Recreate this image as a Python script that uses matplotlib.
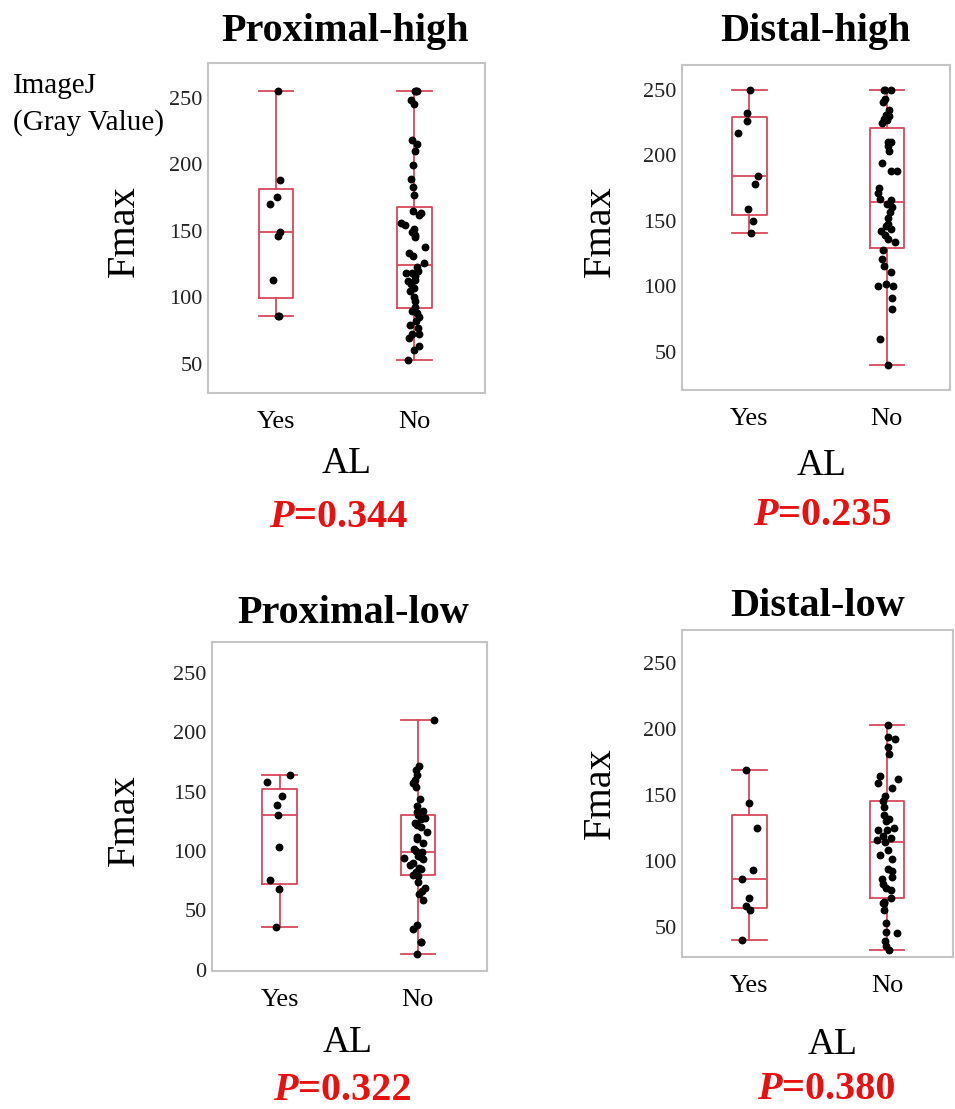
import numpy as np
import matplotlib
matplotlib.use("Agg")
from matplotlib import pyplot as plt

plt.rcParams['font.family'] = ['Liberation Serif', 'DejaVu Serif']

groups = ["Yes", "No"]

prox_high_yes = [255, 188, 175, 170, 149, 146, 113, 86, 86]
prox_high_no = [255, 255, 255, 248, 245, 218, 215, 210, 199, 189, 183, 177, 165, 163, 162, 156,
                154, 151, 149, 147, 145, 138, 133, 131, 126, 123, 120, 118, 118, 116, 113, 112,
                110, 107, 105, 100, 97, 93, 90, 88, 85, 82, 79, 77, 72, 72, 69, 63, 60, 53]

dist_high_yes = [250, 232, 226, 217, 184, 178, 159, 150, 141]
dist_high_no = [250, 250, 250, 243, 241, 235, 231, 230, 228, 227, 225, 210, 210, 207, 203, 194,
                188, 188, 175, 171, 167, 166, 163, 161, 157, 152, 148, 146, 144, 142, 139, 136,
                134, 128, 121, 116, 111, 102, 100, 100, 91, 83, 60, 40]

prox_low_yes = [164, 158, 146, 139, 130, 103, 76, 68, 36]
prox_low_no = [210, 172, 168, 164, 160, 157, 154, 144, 138, 134, 133, 130, 128, 127, 124, 122,
               120, 116, 112, 110, 107, 102, 100, 99, 98, 96, 95, 94, 93, 90, 88, 86, 85, 82,
               80, 79, 74, 69, 66, 64, 59, 38, 34, 23, 23, 13]

dist_low_yes = [169, 144, 125, 93, 86, 72, 66, 63, 40]
dist_low_no = [203, 194, 192, 186, 181, 164, 162, 159, 155, 149, 145, 141, 135, 132, 130, 125,
               123, 123, 119, 117, 116, 114, 108, 104, 101, 94, 92, 88, 86, 82, 79, 78, 72, 69,
               68, 68, 63, 53, 46, 45, 39, 35, 32]

titles = ["Proximal-high", "Distal-high", "Proximal-low", "Distal-low"]
p_values = ["=0.344", "=0.235", "=0.322", "=0.380"]

W, H = 955, 1109
fig = plt.figure(figsize=(W / 100, H / 100), dpi=100)

box_red = "#d9475c"
p_red = "#e81010"


def px_axes(l, t, r, b):
    return fig.add_axes([l / W, 1 - b / H, (r - l) / W, (b - t) / H])


def stats(vals):
    v = np.array(vals, dtype=float)
    q1, med, q3 = np.percentile(v, [25, 50, 75], method="weibull")
    return {"med": med, "q1": q1, "q3": q3, "whislo": v.min(), "whishi": v.max(), "fliers": []}


def panel(rect, yes, no, ylim, yticks, xlim, seed):
    ax = px_axes(*rect)
    lp = dict(color=box_red, linewidth=1.3)
    ax.bxp([stats(yes), stats(no)], positions=[0, 1], widths=0.25, capwidths=0.25,
           showfliers=False, boxprops=lp, medianprops=lp, whiskerprops=lp, capprops=lp)
    rng = np.random.default_rng(seed)
    for pos, vals in zip([0, 1], [yes, no]):
        jit = np.clip(rng.normal(0, 0.035, len(vals)), -0.12, 0.12)
        ax.scatter(pos + jit, vals, s=32, color="black", zorder=3, linewidths=0)
    ax.set_xlim(*xlim)
    ax.set_ylim(*ylim)
    ax.set_yticks(yticks)
    ax.set_xticks([0, 1], groups)
    ax.tick_params(axis="y", length=0, labelsize=16, pad=4, labelcolor="#222222")
    ax.tick_params(axis="x", length=0, labelsize=19, pad=13)
    for s in ax.spines.values():
        s.set_color("#c4c4c4")
        s.set_linewidth(1.5)
    return ax


panel((208, 63, 485, 393), prox_high_yes, prox_high_no, (28, 276), [50, 100, 150, 200, 250], (-0.49, 1.51), 1)
panel((682, 65, 950, 390), dist_high_yes, dist_high_no, (21, 269), [50, 100, 150, 200, 250], (-0.49, 1.46), 2)
panel((212, 642, 487, 971), prox_low_yes, prox_low_no, (-1, 276), [0, 50, 100, 150, 200, 250], (-0.49, 1.5), 3)
panel((682, 630, 953, 957), dist_low_yes, dist_low_no, (27, 275), [50, 100, 150, 200, 250], (-0.49, 1.48), 4)


def ftext(x, y, s, **kw):
    fig.text(x / W, 1 - y / H, s, **kw)


# titles
for (x, y), t in zip([(345, 41), (815, 41), (353, 623), (818, 616)], titles):
    ftext(x, y, t, ha="center", va="baseline", fontsize=29, fontweight="bold")

# y labels
for x, y in [(124, 231), (600, 231), (124, 820), (600, 793)]:
    ftext(x, y, "Fmax", ha="center", va="center", rotation=90, fontsize=29)

ftext(13, 93, "ImageJ", ha="left", va="baseline", fontsize=21)
ftext(13, 130, "(Gray Value)", ha="left", va="baseline", fontsize=21)

# x labels
for x, y in [(347, 473), (822, 475), (348, 1052), (833, 1054)]:
    ftext(x, y, "AL", ha="center", va="baseline", fontsize=27)

# p values
for (x, y), p in zip([(338, 527), (822, 525), (342, 1100), (826, 1099)], p_values):
    x0 = x - 44
    ftext(x0, y, "P", ha="right", va="baseline", fontsize=29, fontweight="bold",
          fontstyle="italic", color=p_red)
    ftext(x0, y, p, ha="left", va="baseline", fontsize=29, fontweight="bold", color=p_red)

fig.savefig("out.png", dpi=100)
